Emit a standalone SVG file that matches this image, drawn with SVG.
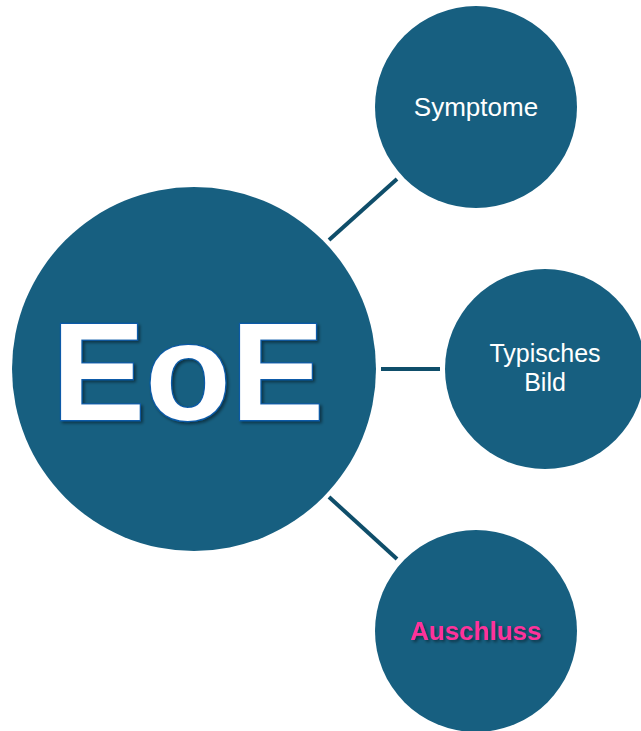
<svg xmlns="http://www.w3.org/2000/svg" width="641" height="731" viewBox="0 0 641 731">
<defs>
<filter id="sh" x="-10%" y="-10%" width="130%" height="130%">
<feDropShadow dx="2" dy="2" stdDeviation="1.5" flood-color="#000" flood-opacity="0.45"/>
</filter>
<style>
.node{fill:#175F80;}
.lbl{font-family:"Liberation Sans",Arial,sans-serif;fill:#fff;font-size:26px;text-anchor:middle;}
.con{stroke:#0F4E6A;stroke-width:4;fill:none;}
</style>
</defs>
<rect width="641" height="731" fill="#fff"/>
<g id="connectors">
<line class="con" x1="329" y1="240" x2="397" y2="179"/>
<line class="con" x1="381" y1="369" x2="440" y2="369"/>
<line class="con" x1="329" y1="497" x2="397" y2="559"/>
</g>
<g id="eoe">
<circle class="node" cx="194" cy="369" r="182"/>
<text x="188" y="420" font-family="Liberation Sans,Arial,sans-serif" font-weight="bold" font-size="140" fill="#fff" stroke="#0B5AA8" stroke-width="2.5" paint-order="stroke" text-anchor="middle" filter="url(#sh)">EoE</text>
</g>
<g id="symptome">
<circle class="node" cx="476" cy="107" r="101"/>
<text class="lbl" x="476" y="116">Symptome</text>
</g>
<g id="typisches-bild">
<circle class="node" cx="545" cy="369" r="100"/>
<text class="lbl" x="545" y="362" style="font-size:25px">Typisches</text>
<text class="lbl" x="545" y="391" style="font-size:25px">Bild</text>
</g>
<g id="auschluss">
<circle class="node" cx="476" cy="631" r="101"/>
<text class="lbl" x="476" y="640" font-weight="bold" style="fill:#FF3399" filter="url(#sh)">Auschluss</text>
</g>
</svg>
